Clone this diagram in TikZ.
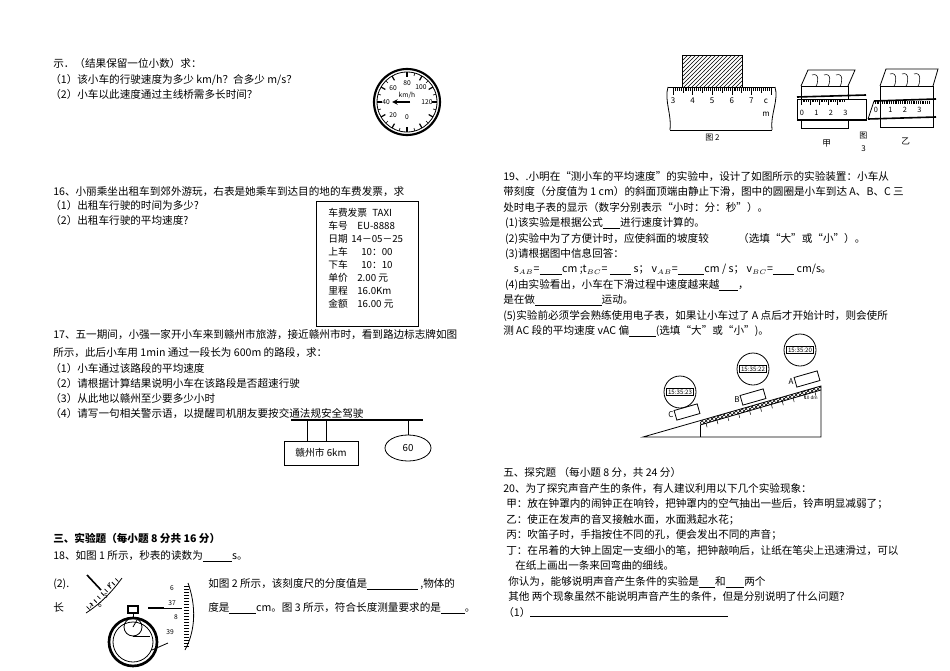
\documentclass[tikz,border=0pt]{standalone}
\usepackage{fontspec}
\setmainfont{Noto Sans CJK SC}
\usetikzlibrary{patterns,calc,shapes.geometric}
\newcommand{\blank}[1]{\underline{\makebox[#1]{}}}
\begin{document}
\begin{tikzpicture}[x=0.75pt,y=-0.75pt,
  tx/.style={anchor=base west,inner sep=0,font=\fontsize{7.95pt}{9pt}\selectfont},
  sm/.style={inner sep=0,font=\fontsize{5pt}{6pt}\selectfont},
  ln/.style={line width=0.6pt}]
\useasboundingbox (0,0) rectangle (950,671);
% ---------- left column
\node[tx] (t1) at (53,67) {示．（结果保留一位小数）求：};
\node[tx] (t2) at (50,83) {（1）该小车的行驶速度为多少 km/h？合多少 m/s？};
\node[tx] (t3) at (50,98) {（2）小车以此速度通过主线桥需多长时间？};
% speedometer
\node[circle,draw,line width=1.6pt,minimum size=66pt*0.75] (sp) at (407,102) {};
\draw[ln] (407,102) circle (30);
\foreach \a in {-90,-60,...,240}{\draw[line width=0.9pt] ($(407,102)+(\a:30)$) -- ($(407,102)+(\a:25)$);}
\foreach \a in {-75,-45,...,225}{\draw[line width=0.5pt] ($(407,102)+(\a:30)$) -- ($(407,102)+(\a:27)$);}
\node[sm] (s60) at (393,88) {60};\node[sm] (s80) at (407,83) {80};\node[sm] (s100) at (421,87) {100};
\node[sm] (skm) at (407,95) {km/h};\node[sm] (s40) at (386,102) {40};\node[sm] (s120) at (427,102) {120};
\node[sm] (s20) at (393,115) {20};\node[sm] (s0) at (407,117) {0};
\draw[line width=0.9pt,-stealth] (410,102) -- (392,102);
\node[tx] (q16) at (53,195) {16、小丽乘坐出租车到郊外游玩，右表是她乘车到达目的地的车费发票，求};
\node[tx] (q16a) at (50,209) {（1）出租车行驶的时间为多少?};
\node[tx] (q16b) at (50,224) {（2）出租车行驶的平均速度?};
\node[draw,ln,minimum width=102*0.75pt,minimum height=125*0.75pt,anchor=north west,inner sep=0] (taxi) at (316,201) {};
\foreach \l/\v/\vx [count=\i] in {车费发票/TAXI/372,车号/EU-8888/357,日期/14－05－25/351,上车/10：00/361,下车/10：10/361,单价/2.00 元/357,里程/16.0Km/357,金额/16.00 元/357}{
  \node[tx,font=\fontsize{7.3pt}{9pt}\selectfont] (tl\i) at (328,{203+\i*13}) {\l};
  \node[tx,font=\fontsize{7.3pt}{9pt}\selectfont] (tv\i) at (\vx,{203+\i*13}) {\v};}
\node[tx] (q17) at (53,338) {17、五一期间，小强一家开小车来到赣州市旅游，接近赣州市时，看到路边标志牌如图};
\node[tx] (q17b) at (53,356) {所示，此后小车用 1min 通过一段长为 600m 的路段，求：};
\node[tx] (q17c) at (50,372) {（1）小车通过该路段的平均速度};
\node[tx] (q17d) at (50,387) {（2）请根据计算结果说明小车在该路段是否超速行驶};
\node[tx] (q17e) at (50,402) {（3）从此地以赣州至少要多少小时};
\node[tx] (q17f) at (50,417) {（4）请写一句相关警示语，以提醒司机朋友要按交通法规安全驾驶};
\coordinate (barL) at (291,420); \coordinate (barR) at (423,420);
\draw[line width=0.9pt] (barL) -- (barR);
\node[draw,ln,minimum width=74*0.75pt,minimum height=24*0.75pt,font=\fontsize{7.3pt}{9pt}\selectfont] (sign) at (321,453) {赣州市 6km};
\draw[ln] (307,420) -- (307,441); \draw[ln] (326,420) -- (326,441);
\node[draw,ln,ellipse,minimum width=46*0.75pt,minimum height=26*0.75pt,inner sep=0,font=\fontsize{7.3pt}{9pt}\selectfont] (lim) at (408,448) {60};
\draw[ln] (408,420) -- (lim.north);
\node[tx,font=\bfseries\fontsize{7.95pt}{9pt}\selectfont] (s3) at (53,542) {三、实验题（每小题 8 分共 16 分）};
\node[tx] (q18) at (53,559) {18、如图 1 所示，秒表的读数为\blank{22pt}s。};
\node[tx] (q18b) at (53,587) {(2).};
\node[tx] (q18c) at (208,587) {如图 2 所示，该刻度尺的分度值是\blank{38pt} ,物体的};
\node[tx] (q18d) at (53,611) {长};
\node[tx] (q18e) at (208,611) {度是\blank{20pt}cm。图 3 所示，符合长度测量要求的是\blank{18pt}。};
% stopwatch
\draw[line width=2pt] (133,642) circle (24);
\draw[ln] (133,642) circle (20);
\draw[ln] (133,627) circle (9);
\draw[ln] (133,627) -- (137,620);
\draw[ln] (133,636) -- (150,636);
\draw[line width=1.2pt] (128,606) rectangle (138,613);
\draw[ln] (133,613) -- (133,618);
\draw[ln] (86,613) .. controls (100,604) and (112,592) .. (122,578);
\foreach \p in {0.1,0.2,...,0.95}{\draw[ln] ($(86,613)!\p!(122,578)$) -- ++(-3,-3);}
\draw[line width=1.2pt] (87,575) -- (101,590);
\node[sm] (w4) at (109,585) {4};\node[sm] (w5) at (106,596) {5};\node[sm] (w6) at (100,605) {6};\node[sm] (w7) at (91,606) {7};
\draw[ln] (188,583) .. controls (196,605) and (196,630) .. (185,650);
\foreach \yy in {586,589,...,648}{\draw[line width=0.4pt] (189,\yy) -- (184,\yy);}
\draw[line width=1.8pt] (148,608) -- (164,608);\draw[ln] (164,608) -- (182,608);
\node[sm] (r6) at (172,588) {6};\node[sm] (r37) at (172,603) {37};\node[sm] (r8) at (176,617) {8};\node[sm] (r39) at (170,632) {39};
\draw[ln] (152,650) -- (168,643);
% ---------- right column: fig 2
\node[draw,ln,pattern=north east lines,minimum width=60*0.75pt,minimum height=32*0.75pt,inner sep=0] (blk) at (712,71) {};
\draw[ln] (668,87) -- (775,87);
\draw[ln] (670,130) -- (772,130);
\draw[ln] (668,87) .. controls (664,100) and (672,115) .. (670,130);
\draw[ln] (775,87) .. controls (779,100) and (770,115) .. (772,130);
\foreach \i in {0,...,50}{\pgfmathsetmacro\hh{mod(\i,10)==0?8:(mod(\i,5)==0?6:4)}\draw[line width=0.4pt] ({673+\i*1.96},87) -- ++(0,\hh);}
\foreach \n [count=\i from 0] in {3,4,5,6,7}{\node[sm,font=\fontsize{6pt}{7pt}\selectfont] (rn\n) at ({673+\i*19.6},101) {\n};}
\node[sm,font=\fontsize{6pt}{7pt}\selectfont] (rc) at (766,101) {c};
\node[sm,font=\fontsize{6pt}{7pt}\selectfont] (rm) at (766,114) {m};
\node[tx,font=\fontsize{6pt}{7pt}\selectfont] (f2) at (705,140) {图 2};
% fig 3 甲
\draw[ln] (801,86) rectangle (848,128);
\draw[ln] (801,86) -- (808,70) -- (855,70) -- (848,86);
\foreach \xx in {812,824,836}{\draw[line width=0.4pt] (\xx,75) .. controls (\xx+8,72) and (\xx+6,84) .. (\xx+4,86);}
\draw[line width=1.2pt] (797,97) -- (866,95);
\draw[ln,fill=white] (797,99) rectangle (866,120);
\draw[line width=1.2pt] (797,120) -- (866,120);
\foreach \i in {0,...,24}{\pgfmathsetmacro\hh{mod(\i,5)==0?6:3}\draw[line width=0.3pt] ({801+\i*1.8},99) -- ++(0,\hh);}
\foreach \n [count=\i from 0] in {0,1,2,3}{\node[sm,font=\fontsize{5.5pt}{6pt}\selectfont] (ja\n) at ({802+\i*14.5},113) {\n};}
\node[tx,font=\fontsize{6.5pt}{7pt}\selectfont] (jia) at (822,146) {甲};
\node[tx,font=\fontsize{6pt}{7pt}\selectfont] (tu3) at (859,138) {图};
\node[tx,font=\fontsize{6pt}{7pt}\selectfont] (tu3b) at (861,151) {3};
% fig 3 乙
\draw[ln] (880,86) rectangle (933,127);
\draw[ln] (880,86) -- (886,69) -- (938,69) -- (933,86);
\foreach \xx in {890,902,914}{\draw[line width=0.4pt] (\xx,74) .. controls (\xx+8,71) and (\xx+6,84) .. (\xx+4,86);}
\draw[line width=1.2pt] (874,101) -- (936,99);
\draw[line width=1.2pt] (868,119) -- (936,117);
\draw[ln] (868,119) -- (874,101);
\foreach \i in {0,...,30}{\draw[line width=0.3pt] ({875+\i*1.8},101) -- ++(0,3);}
\foreach \n [count=\i from 0] in {0,1,2,3}{\node[sm,font=\fontsize{5.5pt}{6pt}\selectfont] (yi\n) at ({876+\i*14.5},110) {\n};}
\node[tx,font=\fontsize{6.5pt}{7pt}\selectfont] (yi) at (901,144) {乙};
% question 19
\foreach \t [count=\i] in {{19、.小明在“测小车的平均速度”的实验中，设计了如图所示的实验装置：小车从},
{带刻度（分度值为 1 cm）的斜面顶端由静止下滑，图中的圆圈是小车到达 A、B、C 三},
{处时电子表的显示（数字分别表示“小时：分：秒”）。},
{\,(1)该实验是根据公式\blank{13pt}进行速度计算的。},
{\,(2)实验中为了方便计时，应使斜面的坡度较\hspace{22pt}（选填“大”或“小”）。},
{\,(3)请根据图中信息回答：},
{\quad s$_{\scriptscriptstyle AB}$=\blank{17pt}cm ;t$_{\scriptscriptstyle BC}$= \blank{16pt} s； v$_{\scriptscriptstyle AB}$=\blank{20pt}cm / s； v$_{\scriptscriptstyle BC}$=\blank{16pt} cm/s。},
{\,(4)由实验看出，小车在下滑过程中速度越来越\blank{14pt}，},
{是在做\blank{50pt}运动。},
{(5)实验前必须学会熟练使用电子表，如果让小车过了 A 点后才开始计时，则会使所},
{测 AC 段的平均速度 vAC 偏\blank{20pt}(选填“大”或“小”)。}}
{\node[tx] (q19l\i) at (503,{165+\i*15.4}) {\t};}
% incline
\coordinate (iA) at (643,437); \coordinate (iB) at (821,437); \coordinate (iC) at (821,386);
\draw[ln] (iA) -- (iB) -- (iC) -- cycle;
\fill[pattern=crosshatch] (700,421) -- (821,386) -- (821,390) -- (700,425) -- cycle;
\draw[ln] (700,425) -- (821,390);
\draw[ln] (700,425) -- (700,437);
\foreach \p in {0.05,0.14,...,0.95}{\draw[line width=0.4pt] ($(700,425)!\p!(821,390)$) -- ++(1,4);}
\foreach \cx/\cy/\tm/\nm/\kx/\ky/\lb in {680/392/15:35:23/c/687/412/C,753/369/15:35:22/b/753/397/B,800/350/15:35:20/a/807/379/A}{
  \node[circle,draw,ln,minimum size=32*0.75pt] (clk\nm) at (\cx,\cy) {};
  \node[draw,line width=0.4pt,inner sep=1pt,font=\fontsize{4.6pt}{5pt}\selectfont] (tm\nm) at (\cx,\cy) {\tm};
  \node[draw,ln,rotate=16,minimum width=24*0.75pt,minimum height=10*0.75pt,inner sep=0] (cart\nm) at (\kx,\ky) {};
  \node[sm,font=\itshape\fontsize{6pt}{7pt}\selectfont] (lab\nm) at (\kx-16,\ky+3) {\lb};}
\node[sm,font=\fontsize{3.5pt}{4pt}\selectfont] (dm) at (811,398) {10 dm};
% question 20
\foreach \t/\xx [count=\i] in {{五、探究题 （每小题 8 分，共 24 分）}/503,
{20、为了探究声音产生的条件，有人建议利用以下几个实验现象：}/503,
{甲：放在钟罩内的闹钟正在响铃，把钟罩内的空气抽出一些后，铃声明显减弱了；}/506,
{乙：使正在发声的音叉接触水面，水面溅起水花；}/506,
{丙：吹笛子时，手指按住不同的孔，便会发出不同的声音；}/506,
{丁：在吊着的大钟上固定一支细小的笔，把钟敲响后，让纸在笔尖上迅速滑过，可以}/506,
{在纸上画出一条来回弯曲的细线。}/515,
{你认为，能够说明声音产生条件的实验是\blank{12pt}和\blank{14pt}两个}/508,
{其他 两个现象虽然不能说明声音产生的条件，但是分别说明了什么问题？}/508,
{（1）}/503}
{\node[tx] (q20l\i) at (\xx,{461+\i*15.5}) {\t};}
\draw[line width=0.7pt] (530,616) -- (728,616);
\end{tikzpicture}
\end{document}
